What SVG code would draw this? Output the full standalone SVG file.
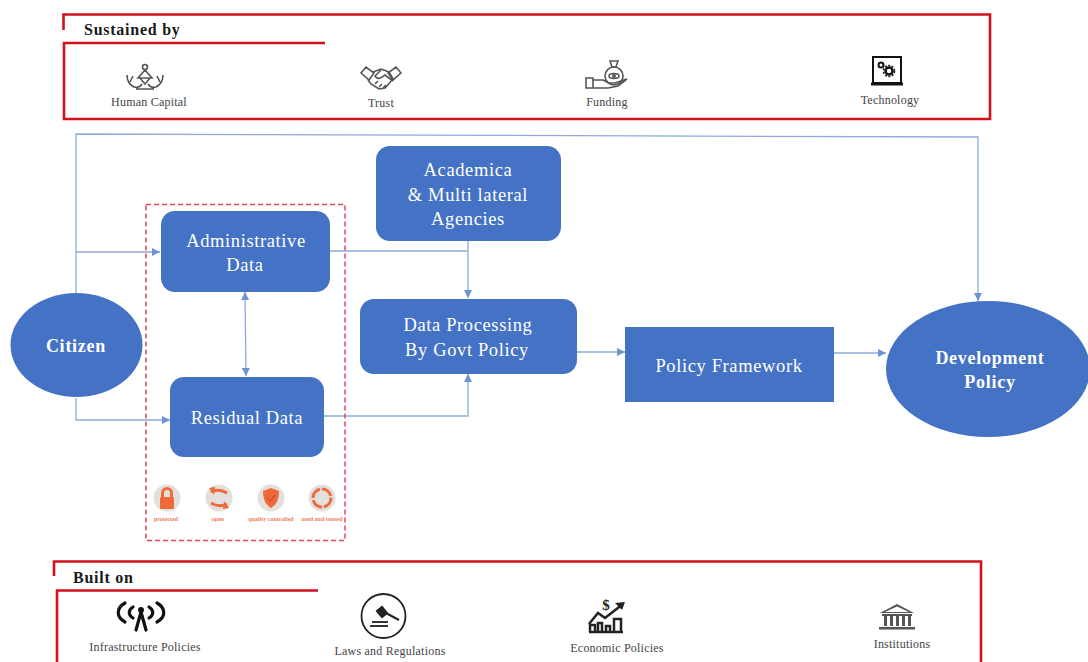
<svg xmlns="http://www.w3.org/2000/svg" width="1088" height="662" viewBox="0 0 1088 662">
<style>
text{font-family:"Liberation Serif","Times New Roman",serif}
.n{fill:#4472C4}
.w{fill:#fff;font-size:18.5px;text-anchor:middle;letter-spacing:.62px}
.wb{fill:#fff;font-size:18px;font-weight:700;text-anchor:middle;letter-spacing:.75px}
.r{fill:none;stroke:#D2111E;stroke-width:2.6}
.c{fill:none;stroke:#8FAADC;stroke-width:1.3}
.h{fill:#1a1a1a;font-size:16px;font-weight:700;letter-spacing:.75px}
.l{fill:#444;font-size:12px;text-anchor:middle;letter-spacing:.22px}
.ic{fill:none;stroke:#555;stroke-width:1.6}
.o{fill:#F0693A}
.os{fill:none;stroke:#F0693A;stroke-width:3}
.d{fill:#E3E0DB}
.t{fill:#F0805A;font-size:6px;font-weight:700;text-anchor:middle}
</style>
<defs>
<marker id="a" markerWidth="9" markerHeight="8" refX="8" refY="4" orient="auto-start-reverse" markerUnits="userSpaceOnUse"><path d="M0 0L8 4L0 8z" fill="#6E92D6"/></marker>
</defs>
<rect width="1088" height="662" fill="#fff"/>
<g id="sustained-frame">
<path class="r" d="M63.500 30V14.500H990V119H64V43H325"/>
<text class="h" x="84" y="35">Sustained by</text>
</g>
<g id="human-capital">
<g class="ic"><circle cx="145" cy="67" r="2.500"/><path d="M145 70l-7 8h14zM140 78l5 6 5-6M127 75c0 6 3 10 7 12 3 1 6 0 8-3M163 75c0 6-3 10-7 12-3 1-6 0-8-3M130 82l3-6M160 82l-3-6M136 89h18"/></g>
<text class="l" x="149" y="106">Human Capital</text>
</g>
<g id="trust">
<g class="ic"><path d="M361 73l5-6 8 6-5 7zM401 73l-5-6-8 6 5 7z"/><path d="M373 72l8-3 8 3 4 7-8 9-6 1-8-5-3-4M381 70l-6 6c2 3 5 3 7 1l3-2 8 6M375 84l3-3M379 87l3-3M383 88l3-3"/></g>
<text class="l" x="381" y="107">Trust</text>
</g>
<g id="funding">
<g class="ic"><ellipse cx="614" cy="76" rx="9" ry="9"/><ellipse cx="614" cy="76" rx="5" ry="2.500"/><circle cx="614" cy="76" r="1.200" fill="#555"/><path d="M610 61h8l-2 6h-4zM586 78h7v10h-7zM593 80h10l6 3h6l12-4-9 7-10 2h-15"/></g>
<text class="l" x="607" y="106">Funding</text>
</g>
<g id="technology">
<g fill="none" stroke="#111" stroke-width="2"><path d="M873 57h28v26h-28z"/><path d="M871 84h32" stroke-width="3"/><circle cx="881" cy="65" r="2.500"/><circle cx="889" cy="71" r="3.500" stroke-width="2.500"/><circle cx="889" cy="71" r="5.500" stroke-width="1.500" stroke-dasharray="2 1.500"/></g>
<text class="l" x="890" y="104">Technology</text>
</g>
<g id="connectors">
<path class="c" marker-end="url(#a)" d="M76 293V134L978 137V301"/>
<path class="c" marker-end="url(#a)" d="M76 252H160"/>
<path class="c" marker-end="url(#a)" d="M76 398V420H170"/>
<path class="c" d="M330 251H468"/>
<path class="c" marker-end="url(#a)" d="M468 241V298"/>
<path class="c" marker-end="url(#a)" d="M324 416H468V374"/>
<path class="c" marker-start="url(#a)" marker-end="url(#a)" d="M245 292L246 376"/>
<path class="c" marker-end="url(#a)" d="M577 352H625"/>
<path class="c" marker-end="url(#a)" d="M834 353H886"/>
</g>
<g id="citizen"><ellipse class="n" cx="76.500" cy="345" rx="66" ry="52"/><text class="wb" x="76" y="352">Citizen</text></g>
<g id="development-policy"><ellipse class="n" cx="988" cy="369" rx="102" ry="68"/><text class="wb" x="990" y="364">Development</text><text class="wb" x="990" y="388">Policy</text></g>
<g id="residual-group">
<rect x="146" y="204.500" width="199" height="336" fill="none" stroke="#E4455A" stroke-width="1.500" stroke-dasharray="5 3"/>
</g>
<g id="administrative-data"><rect class="n" x="161" y="211" width="169" height="81" rx="14"/><text class="w" x="246" y="247">Administrative</text><text class="w" x="245" y="271">Data</text></g>
<g id="residual-data"><rect class="n" x="170" y="377" width="154" height="80" rx="14"/><text class="w" x="247" y="424">Residual Data</text></g>
<g id="academica"><rect class="n" x="376" y="146" width="185" height="95" rx="14"/><text class="w" x="468" y="176">Academica</text><text class="w" x="468" y="201">&amp; Multi lateral</text><text class="w" x="468" y="225">Agencies</text></g>
<g id="data-processing"><rect class="n" x="360" y="299" width="217" height="75" rx="14"/><text class="w" x="468" y="331">Data Processing</text><text class="w" x="467" y="356">By Govt Policy</text></g>
<g id="policy-framework"><rect class="n" x="625" y="327" width="209" height="75"/><text class="w" x="729" y="372">Policy Framework</text></g>
<g id="protected"><circle class="d" cx="167" cy="498" r="13.500"/><rect class="o" x="160" y="497" width="14" height="12" rx="1"/><path class="os" d="M162.500 497v-4a4.500 4.500 0 0 1 9 0v4" stroke-width="2"/><text class="t" x="166" y="521">protected</text></g>
<g id="open"><circle class="d" cx="219" cy="498" r="13.500"/><path class="os" d="M211 492c6-3 11-2 16 1M227 504c-6 3-11 2-16-1"/><path class="o" d="M209 488l6-1-1 8zM229 508l-6 1 1-8z"/><text class="t" x="218" y="521">open</text></g>
<g id="quality-controlled"><circle class="d" cx="271" cy="498" r="13.500"/><path class="o" d="M263 491l8-3 8 3c0 9-3 14-8 17-5-3-8-8-8-17z"/><path d="M267 497l3 4 5-6" fill="none" stroke="#C9502A" stroke-width="1.200"/><text class="t" x="271" y="521">quality controlled</text></g>
<g id="used-and-reused"><circle class="d" cx="322" cy="498" r="13.500"/><circle class="os" cx="322" cy="498" r="9" stroke-dasharray="12 2"/><text class="t" x="322" y="521">used and reused</text></g>
<g id="built-frame">
<path class="r" d="M54 576V561.500H981V662"/>
<path class="r" d="M57 662V590.500H318"/>
<text class="h" x="73" y="583">Built on</text>
</g>
<g id="infrastructure">
<g fill="none" stroke="#111" stroke-width="3.200" stroke-linecap="round"><path d="M125 603c-9 5-9 14 0 19M157 603c9 5 9 14 0 19M133 607c-5 3-5 8 0 11M149 607c5 3 5 8 0 11"/><path d="M141 612l-5 18M141 612l5 18"/></g><circle cx="141" cy="610" r="3" fill="#111"/>
<text class="l" x="145" y="651">Infrastructure Policies</text>
</g>
<g id="laws">
<circle cx="383.500" cy="616" r="22" fill="none" stroke="#222" stroke-width="1.800"/>
<path d="M377 611l5 6 5-4-5-6zM384 612l15 8" stroke="#222" stroke-width="2" fill="#222"/><path d="M372 622h16M370 626h18" stroke="#333" stroke-width="2.200" fill="none"/>
<text class="l" x="390" y="655">Laws and Regulations</text>
</g>
<g id="economic">
<g fill="none" stroke="#222" stroke-width="2.500"><path d="M590 632v-7h5v7M598 632v-9h4v9M606 632v-6h4v6M614 632v-13h7v13M589 632h34"/><path d="M589 624l9-11 7 5 18-14"/></g>
<path d="M625 602l-10 1 7 7z" fill="#222"/><text x="606" y="610" font-size="15" font-weight="700" fill="#222" text-anchor="middle">$</text>
<text class="l" x="617" y="652">Economic Policies</text>
</g>
<g id="institutions">
<g fill="#555"><path d="M897 604l-17 9h34zM897 606.500l-12 5.500h24z" fill-rule="evenodd"/><rect x="882" y="614" width="30" height="2"/><rect x="884" y="616" width="3" height="10"/><rect x="890" y="616" width="3" height="10"/><rect x="896" y="616" width="3" height="10"/><rect x="902" y="616" width="3" height="10"/><rect x="908" y="616" width="3" height="10"/><rect x="879" y="627" width="36" height="2.500"/></g>
<text class="l" x="902" y="648">Institutions</text>
</g>
</svg>
